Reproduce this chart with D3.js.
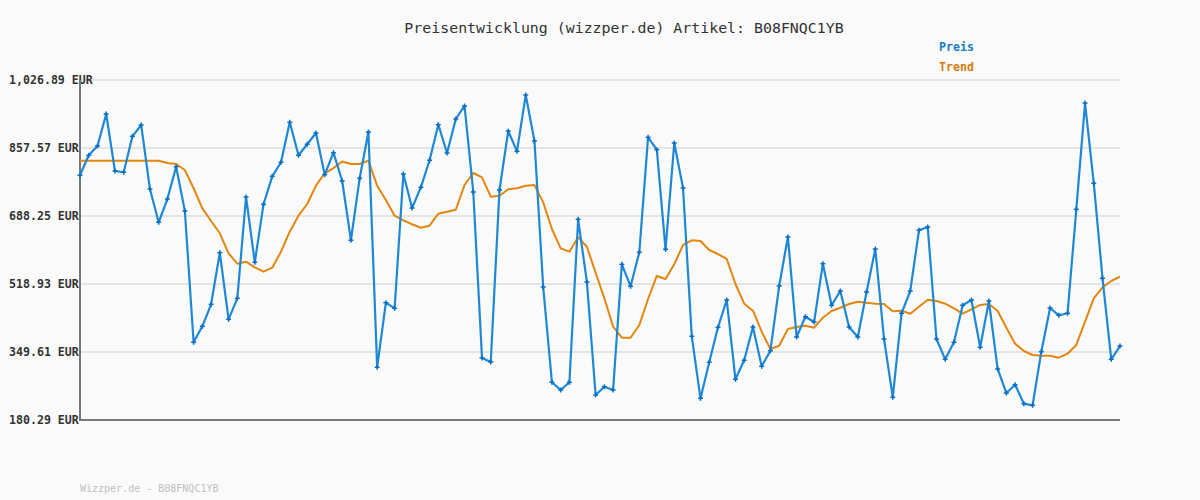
<!DOCTYPE html>
<html>
<head>
<meta charset="utf-8">
<script src="https://cdn.jsdelivr.net/npm/d3@7"></script>
<style>
  html, body { margin: 0; padding: 0; background: #fafafa; }
  svg { display: block; }
</style>
</head>
<body>
<svg id="chart" width="1200" height="500"></svg>
<script>
const titleText = "Preisentwicklung (wizzper.de) Artikel: B08FNQC1YB";
const footerText = "Wizzper.de - B08FNQC1YB";
const seriesNames = ["Preis", "Trend"];
const yTicks = [180.29, 349.61, 518.93, 688.25, 857.57, 1026.89];

const preis = [
  789.6, 839.4, 862.6, 942.2, 800.3, 797.1, 886.7, 914.9, 755.5, 672.6,
  730.6, 811.0, 700.7, 373.8, 413.6, 468.4, 596.9, 431.0, 483.3, 735.6,
  573.0, 717.4, 787.1, 822.0, 921.6, 839.4, 866.8, 894.9, 791.1, 845.9,
  775.4, 627.8, 782.1, 897.4, 311.5, 472.4, 458.4, 792.8, 708.2, 759.7,
  827.0, 915.6, 845.1, 929.8, 962.2, 748.0, 334.7, 324.7, 753.0, 899.9,
  849.3, 989.6, 875.0, 511.5, 274.2, 255.0, 274.2, 680.0, 523.9, 242.5,
  263.2, 255.0, 568.0, 513.2, 597.9, 884.2, 853.4, 605.3, 870.0, 758.0,
  388.7, 234.3, 324.0, 411.1, 479.1, 281.6, 329.0, 411.9, 314.0, 352.9,
  514.0, 636.0, 387.0, 437.5, 424.3, 569.5, 465.9, 501.5, 411.9, 387.0,
  499.0, 606.1, 382.0, 236.8, 446.0, 501.5, 652.7, 660.9, 382.0, 331.4,
  373.8, 465.9, 479.1, 361.3, 476.6, 307.3, 247.5, 268.2, 220.9, 216.9,
  350.4, 459.2, 441.0, 446.0, 704.9, 969.6, 769.7, 533.1, 331.4, 364.6
];

const trend = [
  826.0, 826.0, 826.0, 826.0, 826.0, 826.0, 826.0, 826.0, 826.0, 826.0,
  820.2, 817.7, 802.8, 757.3, 707.4, 675.8, 645.2, 595.4, 569.5, 574.5,
  560.5, 549.6, 559.5, 599.4, 649.2, 689.0, 718.1, 763.7, 794.6, 807.5,
  824.0, 817.7, 817.7, 826.0, 763.7, 728.1, 689.0, 677.6, 667.6, 659.1,
  664.1, 694.0, 699.0, 703.9, 765.5, 795.3, 784.6, 736.3, 738.8, 754.7,
  757.2, 763.7, 765.5, 722.3, 655.9, 607.8, 599.4, 635.2, 611.8, 547.0,
  483.3, 412.6, 385.2, 385.2, 416.9, 481.6, 538.9, 531.4, 568.0, 616.1,
  627.8, 626.0, 603.6, 593.6, 581.2, 518.9, 469.9, 452.5, 400.2, 357.1,
  365.3, 406.9, 411.9, 415.1, 410.1, 435.0, 451.7, 459.9, 469.1, 474.9,
  472.4, 469.9, 469.1, 451.0, 452.5, 445.0, 462.4, 479.8, 476.6, 469.9,
  458.4, 445.0, 455.9, 466.7, 469.1, 451.7, 410.1, 370.3, 352.1, 342.2,
  340.4, 340.4, 335.4, 345.4, 367.1, 425.1, 483.3, 510.7, 526.4, 537.1
];

const svg = d3.select("#chart");
const W = 1200, H = 500;
const margin = { left: 80, right: 80, top: 80, bottom: 80 };
const mono = "'DejaVu Sans Mono', 'Liberation Mono', monospace";

svg.append("rect").attr("width", W).attr("height", H).attr("fill", "#fafafa");

const x = d3.scaleLinear().domain([0, preis.length - 1]).range([margin.left, W - margin.right]);
const y = d3.scaleLinear().domain([yTicks[0], yTicks[yTicks.length - 1]]).range([H - margin.bottom, margin.top]);

// gridlines
svg.append("g").selectAll("line").data(yTicks).join("line")
  .attr("x1", margin.left).attr("x2", W - margin.right)
  .attr("y1", d => y(d)).attr("y2", d => y(d))
  .attr("stroke", "#e4e4e4").attr("stroke-width", 2);

// y labels
const fmt = d3.format(",.2f");
svg.append("g").selectAll("text").data(yTicks).join("text")
  .attr("x", 9).attr("y", d => y(d)).attr("dy", "0.35em")
  .attr("font-family", mono).attr("font-size", 11.6).attr("font-weight", "bold")
  .attr("fill", "#333")
  .text(d => fmt(d) + " EUR");

// axes lines
svg.append("line").attr("x1", margin.left).attr("x2", margin.left)
  .attr("y1", margin.top).attr("y2", H - margin.bottom + 1)
  .attr("stroke", "#777").attr("stroke-width", 2);
svg.append("line").attr("x1", margin.left - 1).attr("x2", W - margin.right)
  .attr("y1", H - margin.bottom).attr("y2", H - margin.bottom)
  .attr("stroke", "#777").attr("stroke-width", 2);

// trend line
const line = d3.line().x((d, i) => x(i)).y(d => y(d));
svg.append("path").datum(trend).attr("d", line)
  .attr("fill", "none").attr("stroke", "#e3860f").attr("stroke-width", 2)
  .attr("stroke-linejoin", "round");

// price line
svg.append("path").datum(preis).attr("d", line)
  .attr("fill", "none").attr("stroke", "#1f88d6").attr("stroke-width", 2.2)
  .attr("stroke-linejoin", "round");

// markers (+)
const m = svg.append("g").attr("stroke", "#0a6fc0").attr("stroke-width", 1.5);
preis.forEach((d, i) => {
  const cx = x(i), cy = y(d);
  m.append("line").attr("x1", cx - 2.5).attr("x2", cx + 2.5).attr("y1", cy).attr("y2", cy);
  m.append("line").attr("x1", cx).attr("x2", cx).attr("y1", cy - 2.5).attr("y2", cy + 2.5);
});

// title
svg.append("text").attr("x", 624).attr("y", 28).attr("dy", "0.35em")
  .attr("text-anchor", "middle")
  .attr("font-family", mono).attr("font-size", 14.9).attr("fill", "#333")
  .text(titleText);

// legend
const legColors = ["#1a7cc4", "#d97a0a"];
svg.append("g").selectAll("text").data(seriesNames).join("text")
  .attr("x", 939).attr("y", (d, i) => 47 + i * 20).attr("dy", "0.35em")
  .attr("font-family", mono).attr("font-size", 11.6).attr("font-weight", "bold")
  .attr("fill", (d, i) => legColors[i])
  .text(d => d);

// footer
svg.append("text").attr("x", 80).attr("y", 488).attr("dy", "0.35em")
  .attr("font-family", mono).attr("font-size", 10).attr("fill", "#c0c0c0")
  .text(footerText);
</script>
</body>
</html>
